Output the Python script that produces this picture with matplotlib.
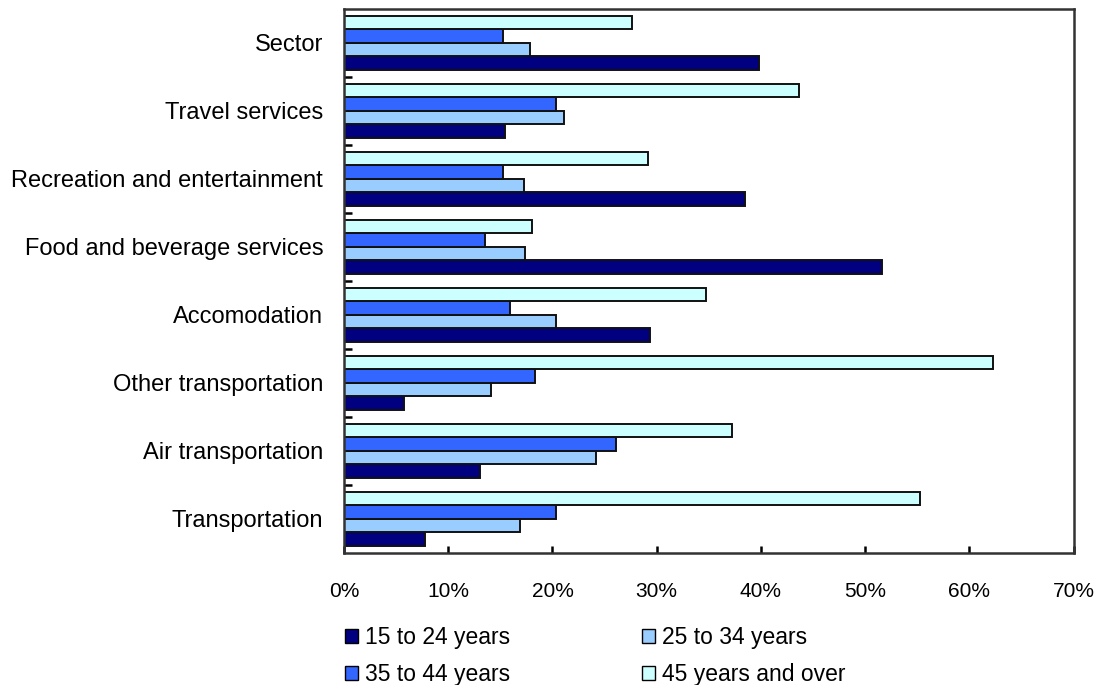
import matplotlib
matplotlib.use("Agg")
import matplotlib.pyplot as plt
import numpy as np
from matplotlib.patches import Patch

categories = ["Sector", "Travel services", "Recreation and entertainment",
              "Food and beverage services", "Accomodation", "Other transportation",
              "Air transportation", "Transportation"]
series_names = ["15 to 24 years", "25 to 34 years", "35 to 44 years", "45 years and over"]
age_15_24 = [39.8, 15.4, 38.5, 51.6, 29.4, 5.8, 13.0, 7.8]
age_25_34 = [17.8, 21.1, 17.3, 17.4, 20.3, 14.1, 24.2, 16.9]
age_35_44 = [15.3, 20.3, 15.3, 13.5, 15.9, 18.3, 26.1, 20.3]
age_45_up = [27.6, 43.6, 29.2, 18.0, 34.7, 62.3, 37.2, 55.3]
colors = ["#000080", "#99CCFF", "#3366FF", "#CCFFFF"]
x_ticks = [0, 10, 20, 30, 40, 50, 60, 70]

plt.rcParams["font.family"] = ["Liberation Sans", "DejaVu Sans"]

fig = plt.figure(figsize=(10.99, 6.85), dpi=100)
ax = fig.add_axes([0.313, 0.193, 0.664, 0.794])

n = len(categories)
# groups listed top to bottom
ypos = np.arange(n)[::-1].astype(float)
h = 0.2
series = [age_15_24, age_25_34, age_35_44, age_45_up]
for i, (vals, c, name) in enumerate(zip(series, colors, series_names)):
    offs = -0.3 + i * h
    ax.barh(ypos + offs, vals, height=h, color=c, edgecolor="#111111",
            linewidth=1.4, label=name)

ax.set_xlim(0, 70)
ax.set_ylim(-0.5, n - 0.5)
ax.set_xticks(x_ticks)
ax.set_xticklabels([f"{t}%" for t in x_ticks], fontsize=15)
ax.set_yticks(ypos)
ax.set_yticklabels(categories, fontsize=17)
ax.set_yticks(np.arange(n - 1) + 0.5, minor=True)
ax.tick_params(axis="y", which="major", length=0, pad=15)
ax.tick_params(axis="y", which="minor", direction="in", length=6, width=1.8)
ax.tick_params(axis="x", direction="in", length=5, width=1.8, pad=21)
for s in ax.spines.values():
    s.set_linewidth(1.8)
    s.set_color("#333333")

handles = [Patch(facecolor=c, edgecolor="black", linewidth=1.0) for c in colors]
order = [0, 2, 1, 3]
fig.legend([handles[i] for i in order], [series_names[i] for i in order],
           loc="upper left", bbox_to_anchor=(0.314, 0.086), ncol=2,
           frameon=False, fontsize=16.5, handlelength=0.57, handleheight=0.57,
           handletextpad=0.3, columnspacing=5.75, labelspacing=0.6,
           borderpad=0, borderaxespad=0)

fig.savefig("out.png", dpi=100)
